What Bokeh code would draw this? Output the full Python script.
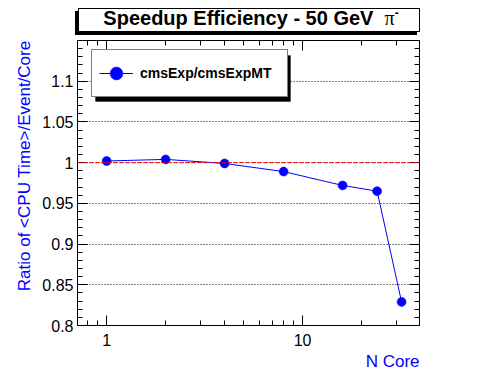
from bokeh.plotting import figure
from bokeh.layouts import column
from bokeh.models import (FixedTicker, LinearAxis, LogAxis, Range1d, Span,
                          BoxAnnotation, Legend, LegendItem, Title, Div)
from bokeh.embed import file_html
from bokeh.resources import INLINE

# ---- data ----
n_core = [1, 2, 4, 8, 16, 24, 32]
ratio = [1.002, 1.004, 0.999, 0.989, 0.972, 0.965, 0.829]
series_name = "cmsExp/cmsExpMT"
reference_level = 1.0

title_text = "Speedup Efficiency - 50 GeV"
title_symbol = "π"
x_label = "N Core"
y_label = "Ratio of <CPU Time>/Event/Core"

x_major = [1, 10]
x_major_labels = ["1", "10"]
x_minor = [0.8, 0.9, 2, 3, 4, 5, 6, 7, 8, 9, 20, 30]
y_major = [0.8, 0.85, 0.9, 0.95, 1.0, 1.05, 1.1]
y_major_labels = ["0.8", "0.85", "0.9", "0.95", "1", "1.05", "1.1"]
y_minor = [0.81, 0.82, 0.83, 0.84, 0.86, 0.87, 0.88, 0.89, 0.91, 0.92, 0.93, 0.94,
           0.96, 0.97, 0.98, 0.99, 1.01, 1.02, 1.03, 1.04, 1.06, 1.07, 1.08, 1.09,
           1.11, 1.12, 1.13, 1.14]

FONT = "Liberation Sans"
BLUE = "#0000ff"
W = 496
MAIN_H = 336

# ---------------- title box (HTML text) ----------------
title_html = (title_text + '&nbsp;&nbsp;<span style="font-family:\'Liberation Serif\';'
              'font-weight:normal;">' + title_symbol + '</span>'
              '<sup style="font-size:12px;line-height:0;">-</sup>')
title_div = Div(text=title_html, width=342, height=24, margin=(8, 0, 4, 78),
                styles={"border": "1px solid black",
                        "box-shadow": "-3px 3px 0 0 black",
                        "background": "white",
                        "box-sizing": "border-box",
                        "font-family": "'Liberation Sans', Arial, sans-serif",
                        "font-weight": "bold",
                        "font-size": "20px",
                        "line-height": "19px",
                        "text-align": "center",
                        "color": "black",
                        "padding-left": "4px",
                        "padding-top": "0px",
                        "overflow": "visible",
                        "white-space": "nowrap"})

# ---------------- main plot ----------------
p = figure(width=W, height=MAIN_H, x_axis_type="log",
           x_range=Range1d(0.71, 39.5), y_range=Range1d(0.8, 1.15),
           output_backend="svg", toolbar_location=None,
           min_border_left=77, min_border_right=77,
           min_border_top=4, min_border_bottom=47)
p.background_fill_color = "white"
p.border_fill_color = "white"
p.outline_line_color = "black"
p.outline_line_width = 1

p.xaxis.ticker = FixedTicker(ticks=x_major, minor_ticks=x_minor)
p.yaxis.ticker = FixedTicker(ticks=y_major, minor_ticks=y_minor)
p.xaxis.major_label_overrides = dict(zip(x_major, x_major_labels))
p.yaxis.major_label_overrides = dict(zip(y_major, y_major_labels))

def style_axis(ax, show_labels=True):
    ax.major_tick_in = 10
    ax.major_tick_out = 0
    ax.minor_tick_in = 5
    ax.minor_tick_out = 0
    ax.major_tick_line_color = "black"
    ax.minor_tick_line_color = "black"
    ax.axis_line_color = "black"
    ax.major_label_text_font = FONT
    ax.major_label_text_font_size = "16px" if show_labels else "0px"
    ax.major_label_text_color = "black"
    if not show_labels:
        ax.major_label_standoff = 0

for ax in p.xaxis + p.yaxis:
    style_axis(ax)
p.yaxis.major_label_standoff = 4
p.xaxis.major_label_standoff = 8

right_ax = LinearAxis(ticker=FixedTicker(ticks=y_major, minor_ticks=y_minor))
style_axis(right_ax, False)
right_ax.major_label_overrides = {v: "" for v in y_major}
p.add_layout(right_ax, "right")
top_ax = LogAxis(ticker=FixedTicker(ticks=x_major, minor_ticks=x_minor))
style_axis(top_ax, False)
top_ax.major_label_overrides = {v: "" for v in x_major}
p.add_layout(top_ax, "above")

p.xgrid.visible = False
p.ygrid.grid_line_color = "black"
p.ygrid.grid_line_dash = "1 2"
p.ygrid.grid_line_width = 1

p.add_layout(Span(location=reference_level, dimension="width", line_color="red",
                  line_dash="4 2", line_width=1))

ln = p.line(n_core, ratio, line_color=BLUE, line_width=1)
sc = p.scatter(n_core, ratio, size=9, fill_color=BLUE, line_color=BLUE, line_width=0.5)

# legend shadow + legend
p.add_layout(BoxAnnotation(left=18, right=213, top=270, bottom=224,
                           left_units="screen", right_units="screen",
                           top_units="screen", bottom_units="screen",
                           fill_color="black", fill_alpha=1, line_color="black"))
legend = Legend(items=[LegendItem(label=series_name, renderers=[ln, sc])],
                location=(14, 228), padding=7, margin=0, spacing=0,
                glyph_width=34, glyph_height=32, label_standoff=7,
                label_width=140, label_height=32,
                label_text_font=FONT, label_text_font_style="bold",
                label_text_font_size="14px", label_text_color="black",
                border_line_color="black", border_line_width=1,
                background_fill_color="white", background_fill_alpha=1)
p.add_layout(legend)

# axis titles
p.add_layout(Title(text=x_label, align="right", text_font=FONT,
                   text_font_size="17px", text_font_style="normal",
                   text_color=BLUE, standoff=2), "below")
p.add_layout(Title(text=y_label, align="right", text_font=FONT,
                   text_font_size="17px", text_font_style="normal",
                   text_color=BLUE, standoff=12), "left")

layout = column(title_div, p, spacing=0)
open("out.html", "w").write(file_html(layout, INLINE))
